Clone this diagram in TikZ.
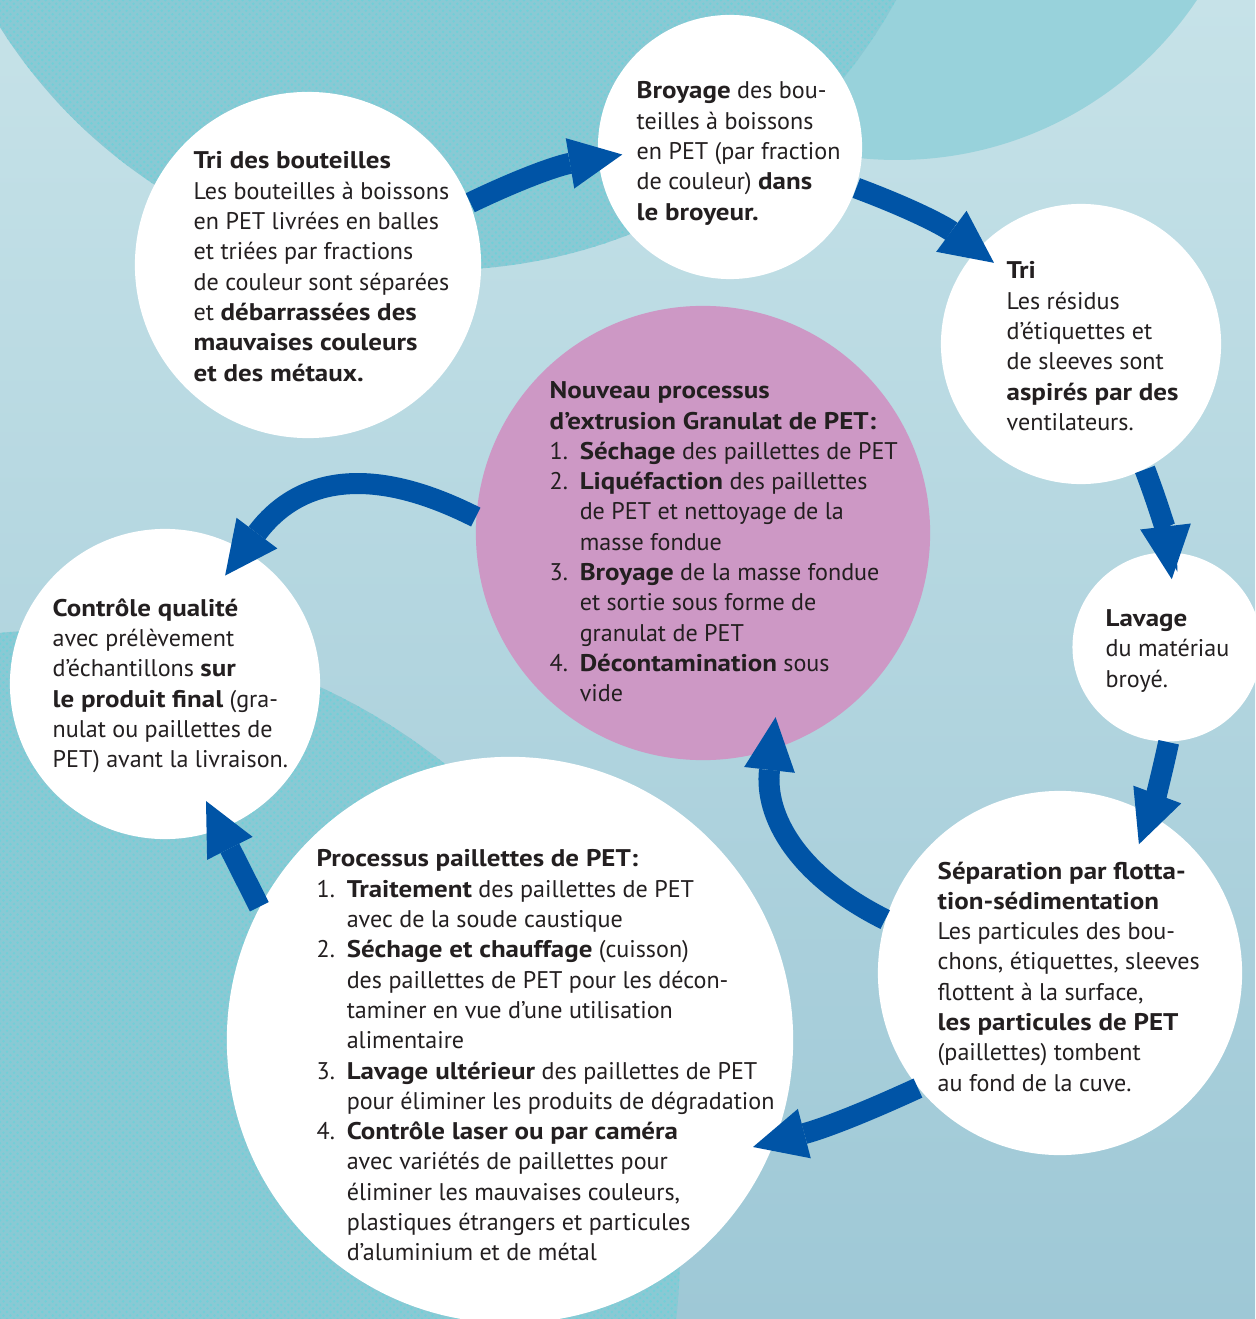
\documentclass[tikz,border=0pt]{standalone}
\usepackage{fontspec}
\setmainfont{PT Sans}[BoldFeatures={FakeStretch=1.12}]
\usetikzlibrary{arrows.meta,positioning,calc,patterns}

\definecolor{bgtop}{RGB}{198,226,232}
\definecolor{bgbottom}{RGB}{158,200,214}
\definecolor{dotbase}{RGB}{138,201,212}
\definecolor{dotlight}{RGB}{112,208,216}
\definecolor{tealsoft}{RGB}{152,210,219}
\definecolor{pinkbubble}{RGB}{205,152,197}
\definecolor{flowblue}{RGB}{0,84,166}
\definecolor{inktext}{RGB}{35,31,32}

\pgfdeclarepatternformonly{finedots}{\pgfqpoint{-0.4pt}{-0.4pt}}{\pgfqpoint{2.4pt}{2.4pt}}{\pgfqpoint{2pt}{2pt}}{%
  \pgfpathcircle{\pgfqpoint{0pt}{0pt}}{0.38pt}
  \pgfpathcircle{\pgfqpoint{1pt}{1pt}}{0.38pt}
  \pgfusepath{fill}}

\newcommand{\stepnum}[1]{\makebox[8.55pt][l]{#1}}
\newcommand{\stepcont}{\hspace*{8.55pt}}

\begin{document}
\begin{tikzpicture}[x=0.01cm, y=0.01cm,
    bubble/.style={circle, fill=white, inner sep=0pt},
    txt/.style={anchor=north west, inner sep=0pt, align=left, text=inktext,
      font=\fontsize{6.85pt}{8.62pt}\selectfont},
    dotted fill/.style={fill=dotbase, postaction={pattern=finedots, pattern color=dotlight}},
    flow/.style={line width=2.1mm, color=flowblue,
      -{Triangle[width=5.1mm,length=5.3mm,line width'=0pt]}}]

    \useasboundingbox (0,0) rectangle (1255,-1319);

    % Background
    \begin{scope}
        \clip (0,0) rectangle (1255,-1319);
        \shade[top color=bgtop, bottom color=bgbottom] (0,0) rectangle (1255,-1319);
        \fill[tealsoft] (897,201) circle (361);
        \path[dotted fill] (440,250) circle (520);
        \path[dotted fill] (60,-1250) circle (620);
    \end{scope}

    % Bubbles
    \node[bubble, minimum size=3.46cm] (tri) at (308,-265) {};
    \node[bubble, minimum size=2.64cm] (broyage) at (730,-147) {};
    \node[bubble, minimum size=2.8cm] (residus) at (1081,-344) {};
    \node[bubble, minimum size=1.89cm] (lavage) at (1167,-647) {};
    \node[bubble, minimum size=3.64cm] (separation) at (1060,-973) {};
    \node[bubble, minimum size=5.66cm] (paillettes) at (510,-1040) {};
    \node[bubble, minimum size=3.1cm] (controle) at (165,-684) {};
    \node[bubble, minimum size=4.54cm, fill=pinkbubble] (extrusion) at (703,-533) {};

    % Texts
    \node[txt] (tri-t) at (193,-151) {\textbf{Tri des bouteilles}\\
        Les bouteilles à boissons\\
        en PET livrées en balles\\
        et triées par fractions\\
        de couleur sont séparées\\
        et \textbf{débarrassées des}\\
        \textbf{mauvaises couleurs}\\
        \textbf{et des métaux.}};
    \node[txt] (broyage-t) at (636,-81) {\textbf{Broyage} des bou-\\
        teilles à boissons\\
        en PET (par fraction\\
        de couleur) \textbf{dans}\\
        \textbf{le broyeur.}};
    \node[txt] (residus-t) at (1006,-261) {\textbf{Tri}\\
        Les résidus\\
        d’étiquettes et\\
        de sleeves sont\\
        \textbf{aspirés par des}\\
        ventilateurs.};
    \node[txt] (lavage-t) at (1105,-609) {\textbf{Lavage}\\
        du matériau\\
        broyé.};
    \node[txt] (separation-t) at (937,-861) {\textbf{Séparation par flotta-}\\
        \textbf{tion-sédimentation}\\
        Les particules des bou-\\
        chons, étiquettes, sleeves\\
        flottent à la surface,\\
        \textbf{les particules de PET}\\
        (paillettes) tombent\\
        au fond de la cuve.};
    \node[txt] (paillettes-t) at (316,-849) {\textbf{Processus paillettes de PET:}\\
        \stepnum{1.}\textbf{Traitement} des paillettes de PET\\
        \stepcont avec de la soude caustique\\
        \stepnum{2.}\textbf{Séchage et chauffage} (cuisson)\\
        \stepcont des paillettes de PET pour les décon-\\
        \stepcont taminer en vue d’une utilisation\\
        \stepcont alimentaire\\
        \stepnum{3.}\textbf{Lavage ultérieur} des paillettes de PET\\
        \stepcont pour éliminer les produits de dégradation\\
        \stepnum{4.}\textbf{Contrôle laser ou par caméra}\\
        \stepcont avec variétés de paillettes pour\\
        \stepcont éliminer les mauvaises couleurs,\\
        \stepcont plastiques étrangers et particules\\
        \stepcont d’aluminium et de métal};
    \node[txt] (controle-t) at (52,-598) {\textbf{Contrôle qualité}\\
        avec prélèvement\\
        d’échantillons \textbf{sur}\\
        \textbf{le produit final} (gra-\\
        nulat ou paillettes de\\
        PET) avant la livraison.};
    \node[txt] (extrusion-t) at (549,-381) {\textbf{Nouveau processus}\\
        \textbf{d’extrusion Granulat de PET:}\\
        \stepnum{1.}\textbf{Séchage} des paillettes de PET\\
        \stepnum{2.}\textbf{Liquéfaction} des paillettes\\
        \stepcont de PET et nettoyage de la\\
        \stepcont masse fondue\\
        \stepnum{3.}\textbf{Broyage} de la masse fondue\\
        \stepcont et sortie sous forme de\\
        \stepcont granulat de PET\\
        \stepnum{4.}\textbf{Décontamination} sous\\
        \stepcont vide};

    % Arrow tips inside the next bubble
    \coordinate (to-broyage) at ($(broyage)+(184:108)$);
    \coordinate (to-residus) at ($(residus)+(137:119)$);
    \coordinate (to-lavage) at ($(lavage)+(86:68)$);
    \coordinate (to-separation) at ($(separation)+(58.5:151)$);
    \coordinate (to-paillettes) at (753,-1147);
    \coordinate (to-extrusion) at ($(extrusion)+(-68.5:198)$);
    \coordinate (to-controle) at ($(controle)+(61:124)$);
    \coordinate (to-controle2) at (206,-801);

    % Flow
    \path[flow]
        (tri.21) edge[bend left=8] (to-broyage)
        (broyage.-18) edge[bend left=8] (to-residus)
        (residus.-63) edge[bend left=7] (to-lavage)
        (lavage.-89) edge[bend left=4] (to-separation)
        (separation.219) edge[bend left=5] (to-paillettes)
        (separation.163) edge[bend left=35, looseness=1.1] (to-extrusion)
        (paillettes.152) edge (to-controle2)
        (extrusion.176) edge[bend right=40, looseness=1.2] (to-controle);

\end{tikzpicture}
\end{document}
